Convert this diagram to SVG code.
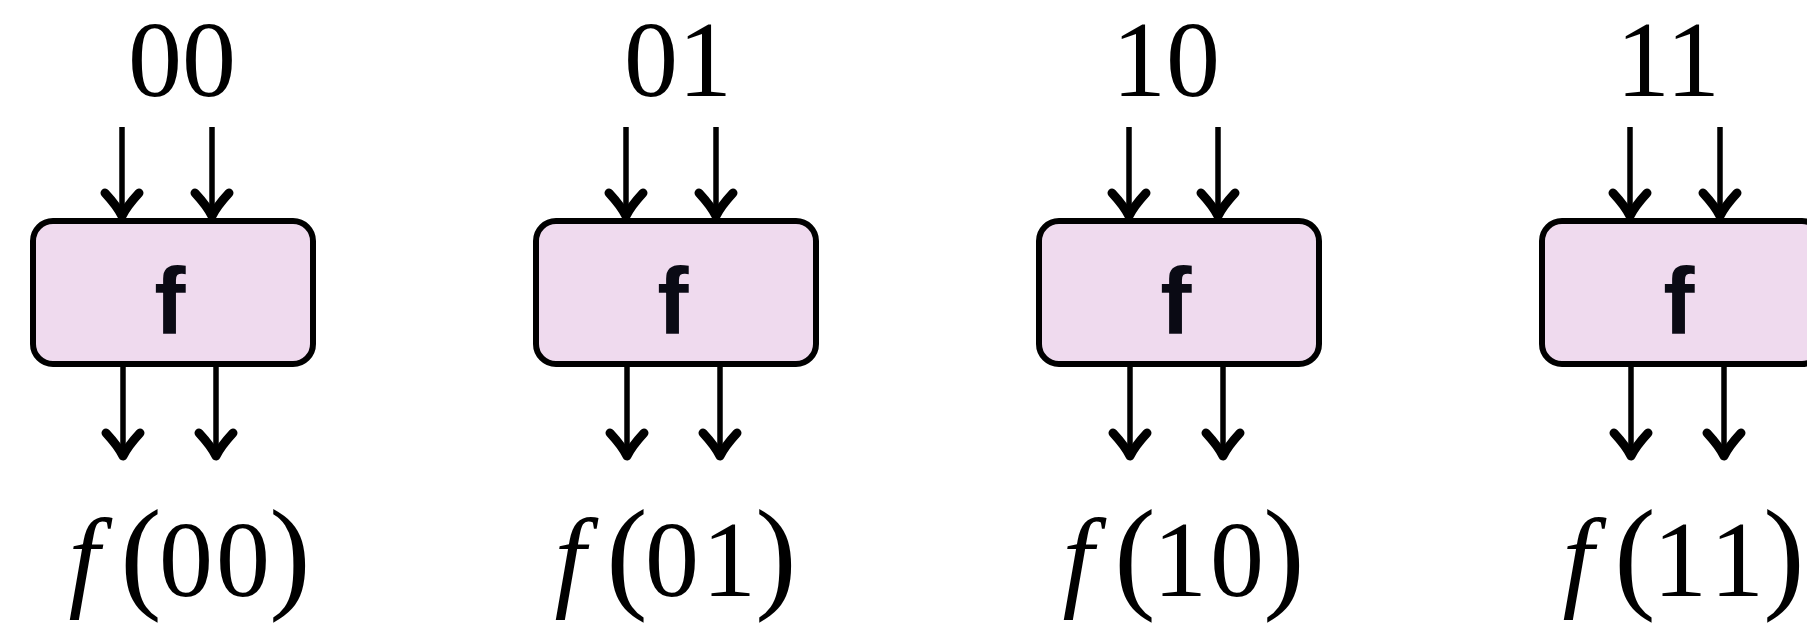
<svg xmlns="http://www.w3.org/2000/svg" width="1807" height="623" viewBox="0 0 1807 623">
  <style>
    .box { fill: #EFDAEE; stroke: #000; stroke-width: 6; }
    .fn { font-family: "Liberation Sans", Arial, sans-serif; font-weight: bold; font-size: 94px; fill: #0a0a14; text-anchor: middle; }
    .bits { font-family: "Liberation Serif", "Times New Roman", serif; font-size: 108px; fill: #000; text-anchor: middle; }
    .out { font-family: "Liberation Serif", "Times New Roman", serif; font-size: 108px; fill: #000; text-anchor: middle; }
    .it { font-style: italic; font-size: 112px; }
    .par { font-size: 124px; }
    .wire { stroke: #000; stroke-width: 5.5; fill: none; marker-end: url(#tip); }
  </style>
  <defs>
    <marker id="tip" markerUnits="userSpaceOnUse" viewBox="-34 -24 40 48" markerWidth="40" markerHeight="48" refX="0" refY="0" orient="auto">
      <path d="M -23,-17 Q -10,-5 0,0 Q -10,5 -23,17" fill="none" stroke="#000" stroke-width="9" stroke-linecap="round" stroke-linejoin="round"/>
    </marker>
    <g id="unit">
      <rect class="box" x="33" y="221" width="280" height="143" rx="20" ry="20"/>
      <text class="fn" x="170" y="334">f</text>
    </g>
  </defs>

  <!-- gate blocks -->
  <g id="gate-00"><use href="#unit"/></g>
  <g id="gate-01"><use href="#unit" x="503"/></g>
  <g id="gate-10"><use href="#unit" x="1006"/></g>
  <g id="gate-11"><use href="#unit" x="1509"/></g>

  <!-- input bit labels -->
  <g id="in-labels">
    <text class="bits" x="182" y="96">00</text>
    <text class="bits" x="678" y="96">01</text>
    <text class="bits" x="1166" y="96">10</text>
    <text class="bits" x="1668" y="96">11</text>
  </g>

  <!-- output labels f(xy) -->
  <g id="out-labels">
    <text class="out" y="596"><tspan class="it" x="84">f</tspan><tspan class="par" x="141">(</tspan><tspan x="186">0</tspan><tspan x="243">0</tspan><tspan class="par" x="290">)</tspan></text>
    <text class="out" y="596"><tspan class="it" x="570">f</tspan><tspan class="par" x="627">(</tspan><tspan x="672">0</tspan><tspan x="729">1</tspan><tspan class="par" x="776">)</tspan></text>
    <text class="out" y="596"><tspan class="it" x="1078">f</tspan><tspan class="par" x="1135">(</tspan><tspan x="1180">1</tspan><tspan x="1237">0</tspan><tspan class="par" x="1284">)</tspan></text>
    <text class="out" y="596"><tspan class="it" x="1578">f</tspan><tspan class="par" x="1635">(</tspan><tspan x="1680">1</tspan><tspan x="1737">1</tspan><tspan class="par" x="1784">)</tspan></text>
  </g>

  <!-- wires -->
  <g id="connectors">
    <line class="wire" x1="122" y1="127" x2="122" y2="216"/>
    <line class="wire" x1="212" y1="127" x2="212" y2="216"/>
    <line class="wire" x1="123" y1="367" x2="123" y2="456"/>
    <line class="wire" x1="216" y1="367" x2="216" y2="456"/>

    <line class="wire" x1="626" y1="127" x2="626" y2="216"/>
    <line class="wire" x1="716" y1="127" x2="716" y2="216"/>
    <line class="wire" x1="627" y1="367" x2="627" y2="456"/>
    <line class="wire" x1="720" y1="367" x2="720" y2="456"/>

    <line class="wire" x1="1129" y1="127" x2="1129" y2="216"/>
    <line class="wire" x1="1218" y1="127" x2="1218" y2="216"/>
    <line class="wire" x1="1130" y1="367" x2="1130" y2="456"/>
    <line class="wire" x1="1223" y1="367" x2="1223" y2="456"/>

    <line class="wire" x1="1630" y1="127" x2="1630" y2="216"/>
    <line class="wire" x1="1720" y1="127" x2="1720" y2="216"/>
    <line class="wire" x1="1631" y1="367" x2="1631" y2="456"/>
    <line class="wire" x1="1724" y1="367" x2="1724" y2="456"/>
  </g>
</svg>
